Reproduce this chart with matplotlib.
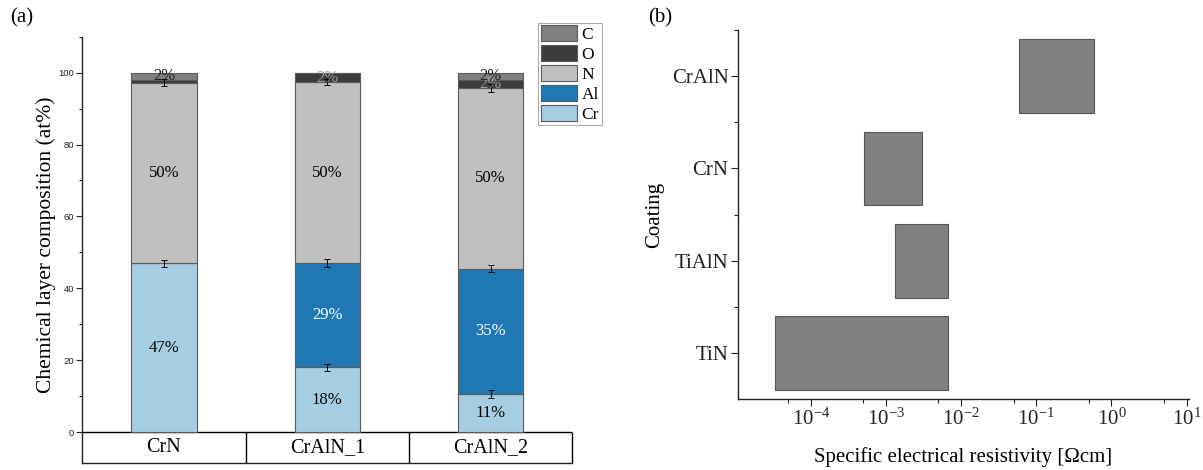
import numpy as np
import matplotlib
matplotlib.use('Agg')
import matplotlib.pyplot as plt
from matplotlib.patches import Patch
from matplotlib.ticker import FixedLocator, NullFormatter

plt.rcParams['font.family'] = ['Liberation Serif', 'DejaVu Serif']
plt.rcParams['mathtext.fontset'] = 'custom'
plt.rcParams['mathtext.rm'] = 'Liberation Serif'

# (a) chemical composition, at%
samples = ['CrN', 'CrAlN_1', 'CrAlN_2']
elements = ['Cr', 'Al', 'N', 'O', 'C']
cr = [46.9, 18.0, 10.6]
al = [0.0, 29.0, 34.9]
n = [50.3, 50.4, 50.2]
o = [0.8, 2.49, 2.3]
c = [2.0, 0.1, 2.0]
cr_err = [0.9, 1.0, 1.05]
al_err = [0.0, 1.2, 1.0]
n_err = [0.9, 0.7, 1.2]

colors = {'Cr': '#a6cee3', 'Al': '#1f77b4', 'N': '#c0c0c0', 'O': '#3c3c3c', 'C': '#808080'}
txt_colors = {'Cr': 'black', 'Al': 'white', 'N': 'black', 'O': '#9a9a9a', 'C': '#222222'}

# (b) resistivity ranges, Ohm cm
coatings = ['TiN', 'TiAlN', 'CrN', 'CrAlN']
rho_min = [3.3e-5, 1.3e-3, 5.1e-4, 5.8e-2]
rho_max = [6.6e-3, 6.6e-3, 3.0e-3, 5.9e-1]
decades = [1e-4, 1e-3, 1e-2, 1e-1, 1e0, 1e1]
decade_labels = ['-4', '-3', '-2', '-1', '0', '1']

fig = plt.figure(figsize=(12.03, 4.70), dpi=100)

# ---------------- panel (a)
ax1 = fig.add_axes([0.0684, 0.01426, 0.4073, 0.9076])
x = np.arange(len(samples))
layers = {'Cr': cr, 'Al': al, 'N': n, 'O': o, 'C': c}
errs = {'Cr': cr_err, 'Al': al_err, 'N': n_err}
bottom = np.zeros(len(samples))
for el in elements:
    vals = np.array(layers[el])
    ax1.bar(x, vals, 0.4, bottom=bottom, color=colors[el], edgecolor='#5a5a5a',
            linewidth=0.8, zorder=2)
    for i in range(len(samples)):
        if vals[i] >= 1.5:
            ax1.text(x[i], bottom[i] + vals[i] / 2, f'{vals[i]:.0f}%', ha='center',
                     va='center', fontsize=12, color=txt_colors[el], zorder=4)
    top = bottom + vals
    if el in errs:
        e = np.array(errs[el])
        m = e > 0
        ax1.errorbar(x[m], top[m], yerr=e[m], fmt='none', ecolor='black',
                     elinewidth=0.7, capsize=2.2, capthick=0.7, zorder=3)
    bottom = top

ax1.set_xlim(-0.5, 2.5)
ax1.set_ylim(-8.7, 110)
for s in ['top', 'right']:
    ax1.spines[s].set_visible(False)
for s in ['left', 'bottom']:
    ax1.spines[s].set_linewidth(1.0)
    ax1.spines[s].set_color('#222222')
ax1.set_xticks([])
ax1.set_yticks(np.arange(0, 101, 20))
ax1.yaxis.set_minor_locator(FixedLocator(np.arange(10, 111, 20)))
ax1.tick_params(axis='y', which='major', direction='out', length=4, width=0.8,
                labelsize=6.8, pad=2, colors='#222222')
ax1.tick_params(axis='y', which='minor', direction='out', length=2.5, width=0.8,
                colors='#222222')
for lab in ax1.get_yticklabels():
    lab.set_family('Liberation Sans')

# category table under the bars
ax1.axhline(0, color='black', lw=1.0, zorder=1)
ax1.vlines([0.5, 1.5, 2.5], -8.7, 0, color='black', lw=1.0, clip_on=False)
for i, s in enumerate(samples):
    ax1.text(i, -4.35, s, ha='center', va='center', fontsize=14.5)

fig.text(46 / 1203, 1 - 245 / 470, 'Chemical layer composition (at%)', rotation=90,
         ha='center', va='center', fontsize=15.5)

handles = [Patch(facecolor=colors[el], edgecolor='#5a5a5a', linewidth=0.8)
           for el in elements[::-1]]
leg = fig.legend(handles, elements[::-1], loc='upper left',
                 bbox_to_anchor=(538.3 / 1203, 1 - 22.7 / 470), fontsize=12.5,
                 handlelength=2.1, handleheight=1.02, labelspacing=0.12,
                 borderpad=0.15, handletextpad=0.25, borderaxespad=0,
                 fancybox=False, edgecolor='#aaaaaa', framealpha=1)
leg.get_frame().set_linewidth(0.8)

# ---------------- panel (b)
ax2 = fig.add_axes([0.6137, 0.1504, 0.3746, 0.7858])
ax2.set_xscale('log')
ypos = np.arange(len(coatings))
ax2.barh(ypos, np.array(rho_max) - np.array(rho_min), left=rho_min, height=0.8,
         color='#808080', edgecolor='#555555', linewidth=0.8)
ax2.set_xlim(10 ** -4.964, 10 ** 1.03)
ax2.set_ylim(-0.5, 3.5)
for s in ['top', 'right']:
    ax2.spines[s].set_visible(False)
for s in ['left', 'bottom']:
    ax2.spines[s].set_linewidth(1.0)
    ax2.spines[s].set_color('#222222')
ax2.set_yticks(ypos)
ax2.set_yticklabels(coatings)
ax2.yaxis.set_minor_locator(FixedLocator([0.5, 1.5, 2.5, 3.5]))
ax2.xaxis.set_major_locator(FixedLocator(decades))
ax2.set_xticklabels([r'$\mathregular{10^{%s}}$' % d for d in decade_labels])
ax2.xaxis.set_minor_locator(FixedLocator([5 * d for d in decades[:-1]] + [5e-5]))
ax2.xaxis.set_minor_formatter(NullFormatter())
ax2.tick_params(which='major', direction='out', length=5, width=0.8, labelsize=15,
                pad=2, colors='#222222')
ax2.tick_params(which='minor', direction='out', length=3, width=0.8, colors='#222222')

fig.text(963 / 1203, 1 - 461.7 / 470, 'Specific electrical resistivity [\u03a9cm]',
         ha='center', va='baseline', fontsize=15)
fig.text(655 / 1203, 1 - 215 / 470, 'Coating', rotation=90, ha='center', va='center',
         fontsize=15)

fig.text(10 / 1203, 1 - 8 / 470, '(a)', ha='left', va='top', fontsize=15)
fig.text(648 / 1203, 1 - 8 / 470, '(b)', ha='left', va='top', fontsize=15)

fig.savefig('out.png', dpi=100)
